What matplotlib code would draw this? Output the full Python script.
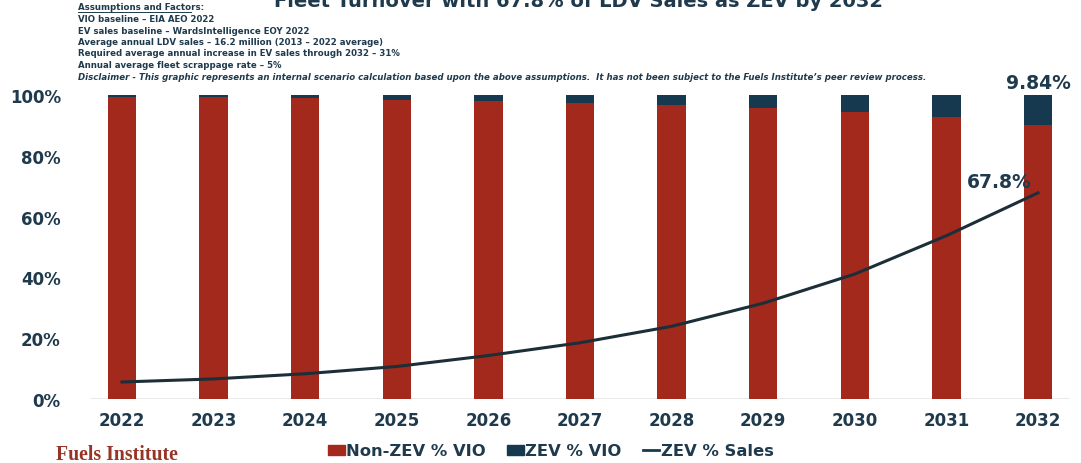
import numpy as np
import matplotlib.pyplot as plt
from matplotlib.patches import Patch
from matplotlib.lines import Line2D

years = ['2022', '2023', '2024', '2025', '2026', '2027',
         '2028', '2029', '2030', '2031', '2032']
zev_vio = [0.6, 0.8, 1.1, 1.5, 2.0, 2.7, 3.3, 4.4, 5.7, 7.4, 9.84]
non_zev_vio = [100 - v for v in zev_vio]
zev_sales = [5.6, 6.6, 8.3, 10.7, 14.3, 18.5, 23.9, 31.5, 41.1, 53.7, 67.8]

assumptions = [
    'VIO baseline \u2013 EIA AEO 2022',
    'EV sales baseline \u2013 WardsIntelligence EOY 2022',
    'Average annual LDV sales \u2013 16.2 million (2013 \u2013 2022 average)',
    'Required average annual increase in EV sales through 2032 \u2013 31%',
    'Annual average fleet scrappage rate \u2013 5%',
]
disclaimer = ('Disclaimer - This graphic represents an internal scenario calculation '
              'based upon the above assumptions.  It has not been subject to the '
              'Fuels Institute\u2019s peer review process.')

RED = '#A3291C'
NAVY = '#17394F'
TEXT = '#1E3A4C'

plt.rcParams['font.family'] = ['DejaVu Sans']
plt.rcParams['font.weight'] = 'bold'

fig = plt.figure(figsize=(10.81, 4.64), dpi=100)
ax = fig.add_axes([90 / 1081, 64 / 464, 980 / 1081, 304 / 464])

x = np.arange(len(years))
ax.bar(x, non_zev_vio, width=0.31, color=RED, zorder=2)
ax.bar(x, zev_vio, width=0.31, bottom=non_zev_vio, color=NAVY, zorder=2)
ax.plot(x, zev_sales, color='#1C2E38', lw=2.2, zorder=3)

ax.set_xlim(-0.35, 10.35)
ax.set_ylim(0, 100)
ax.set_yticks(range(0, 101, 20))
ax.set_yticklabels([f'{v}%' for v in range(0, 101, 20)])
ax.set_xticks(x)
ax.set_xticklabels(years)
ax.tick_params(length=0, labelsize=12, labelcolor=TEXT)
ax.tick_params(axis='y', pad=21)
ax.tick_params(axis='x', pad=9)
ax.axhline(0, color='#E6E6E6', lw=1.2, zorder=1)
for s in ax.spines.values():
    s.set_visible(False)

# value callouts
ax.text(x[-1], 100 + 0.9, f'{zev_vio[-1]:.2f}%', ha='center', va='bottom',
        fontsize=13.5, color=TEXT, clip_on=False)
ax.text(x[-1] - 0.42, zev_sales[-1] + 0.6, f'{zev_sales[-1]}%', ha='center',
        va='bottom', fontsize=13.5, color=TEXT)

# title sits partly above the canvas
fig.text(578 / 1081, (464 - 7) / 464,
         'Fleet Turnover with 67.8% of LDV Sales as ZEV by 2032',
         ha='center', va='baseline', fontsize=14, color=TEXT)

# assumptions block
fs = 6.2
fig.text(78 / 1081, (464 - 8) / 464, 'Assumptions and Factors:', ha='left',
         va='center', fontsize=fs, color=TEXT)
fig.add_artist(Line2D([78 / 1081, 191 / 1081], [(464 - 13) / 464] * 2,
                      color=TEXT, lw=0.7))
for i, line in enumerate(assumptions):
    fig.text(78 / 1081, (464 - 19.5 - 11.5 * i) / 464, line, ha='left',
             va='center', fontsize=fs, color=TEXT)
fig.text(78 / 1081, (464 - 77) / 464, disclaimer, ha='left', va='center',
         fontsize=fs, style='italic', color=TEXT)

# footer brand
fig.text(56 / 1081, 4 / 464, 'Fuels Institute', ha='left', va='baseline',
         fontsize=14.2, color='#963526',
         family=['Liberation Serif', 'DejaVu Serif'])

handles = [Patch(color=RED), Patch(color=NAVY), Line2D([], [], color=NAVY, lw=2)]
labels = ['Non-ZEV % VIO', 'ZEV % VIO', 'ZEV % Sales']
leg = fig.legend(handles, labels, loc='center', bbox_to_anchor=(551 / 1081, 12 / 464),
                 ncol=3, frameon=False, fontsize=11.8, handlelength=1.0,
                 handleheight=0.55, handletextpad=0.1, columnspacing=1.3)
for t in leg.get_texts():
    t.set_color(TEXT)

fig.savefig('out.png', dpi=100, facecolor='white')
